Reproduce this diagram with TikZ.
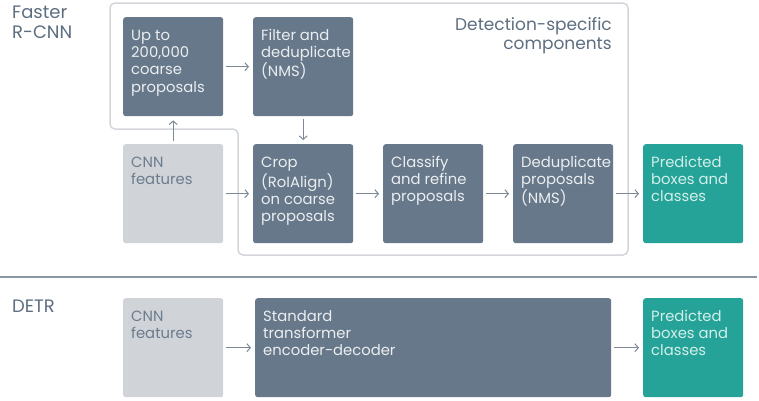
\documentclass[tikz,border=0pt]{standalone}
\usepackage{fontspec}
\setmainfont{Poppins}
\usetikzlibrary{arrows.meta}
\definecolor{slatebox}{HTML}{67788A}
\definecolor{lightbox}{HTML}{D0D3D8}
\definecolor{tealbox}{HTML}{25A398}
\definecolor{darktxt}{HTML}{EBEEF1}
\definecolor{greytxt}{HTML}{6C7C8D}
\definecolor{tealtxt}{HTML}{D3EFEB}
\definecolor{titletxt}{HTML}{5D6E80}
\definecolor{regionc}{HTML}{D3D6DA}
\definecolor{arrowc}{HTML}{7D8996}
\definecolor{sepc}{HTML}{8A96A3}
\newcommand\bt[2][84pt]{\parbox[t][77pt][t]{#1}{\raggedright\strut #2}}
\begin{document}
\begin{tikzpicture}[x=1pt,y=-1pt,
  box/.style={rounded corners=2.5pt, anchor=north west, inner xsep=8pt, inner ysep=11pt,
    font=\fontsize{14.8}{17.3}\selectfont},
  dbox/.style={box, fill=slatebox, text=darktxt},
  lbox/.style={box, fill=lightbox, text=greytxt},
  tbox/.style={box, fill=tealbox, text=tealtxt},
  arr/.style={draw=arrowc, line width=1pt, -{Straight Barb[length=3.5pt,width=8pt]},
    shorten <=3pt, shorten >=4pt},
  title/.style={anchor=north west, inner sep=0pt, text=titletxt},
  region/.style={draw=regionc, line width=1.5pt, rounded corners=5pt}]
\useasboundingbox (0,0) rectangle (759,400);
\draw[region] (110,3) -- (628,3) -- (628,255) -- (238,255) -- (238,129) -- (110,129) -- cycle;
\draw[draw=sepc, line width=1.3pt] (0,277) -- (757,277);
% titles
\node[title, font=\fontsize{18}{20}\selectfont] (t1) at (12,4) {\parbox[t]{100pt}{\raggedright\strut Faster\\R-CNN}};
\node[title, anchor=north east, font=\fontsize{17}{19}\selectfont] (t2) at (612,17) {\parbox[t]{220pt}{\raggedleft\strut Detection-specific\\components}};
\node[title, font=\fontsize{18}{20}\selectfont] (t3) at (12,298) {\parbox[t]{100pt}{\raggedright\strut DETR}};
% Faster R-CNN boxes
\node[dbox] (up) at (123,17) {\bt{Up to\\200,000\\coarse\\proposals}};
\node[dbox] (filt) at (253,17) {\bt{Filter and\\deduplicate\\(NMS)}};
\node[lbox] (cnn1) at (123,144) {\bt{CNN\\features}};
\node[dbox] (crop) at (253,144) {\bt{Crop\\(RoIAlign)\\on coarse\\proposals}};
\node[dbox] (cls) at (383,144) {\bt{Classify\\and refine\\proposals}};
\node[dbox] (ded) at (513,144) {\bt{Deduplicate\\proposals\\(NMS)}};
\node[tbox] (pred1) at (643,144) {\bt{Predicted\\boxes and\\classes}};
% DETR boxes
\node[lbox] (cnn2) at (123,298) {\bt{CNN\\features}};
\node[dbox] (std) at (255,298) {\bt[340pt]{Standard\\transformer\\encoder-decoder}};
\node[tbox] (pred2) at (643,298) {\bt{Predicted\\boxes and\\classes}};
% arrows
\draw[arr] (up) -- (filt);
\draw[arr] (filt) -- (crop);
\draw[arr] (cnn1) -- (up);
\draw[arr] (cnn1) -- (crop);
\draw[arr] (crop) -- (cls);
\draw[arr] (cls) -- (ded);
\draw[arr] (ded) -- (pred1);
\draw[arr] (cnn2) -- (std);
\draw[arr] (std) -- (pred2);
\end{tikzpicture}
\end{document}
